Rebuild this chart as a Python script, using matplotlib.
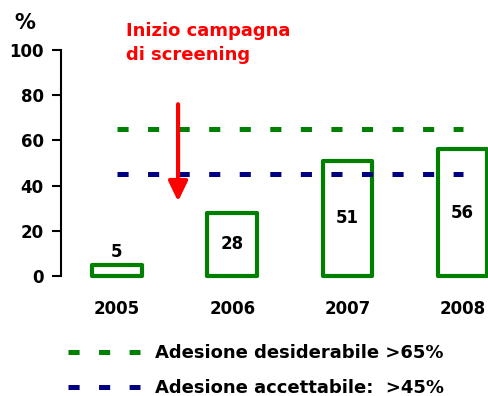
import matplotlib.pyplot as plt
import numpy as np

plt.rcParams['font.family'] = 'DejaVu Sans'
plt.rcParams['font.weight'] = 'bold'
plt.rcParams['lines.scale_dashes'] = False

# adesione allo screening per anno (%)
anni = ['2005', '2006', '2007', '2008']
adesione = [5, 28, 51, 56]
soglia_desiderabile = 65
soglia_accettabile = 45
etichette_legenda = ['Adesione desiderabile >65%', 'Adesione accettabile:  >45%']

verde = '#008000'
blu = '#000080'
x = np.arange(len(anni))

fig = plt.figure(figsize=(4.88, 3.96), dpi=100)
ax = fig.add_axes([61/488, 120/396, 1 - 61/488, 226/396])

# barre vuote con bordo verde
ax.bar(x, adesione, width=0.43, color='white', edgecolor=verde, linewidth=3,
       joinstyle='round', clip_on=False, zorder=2)

# valori: sopra la barra se troppo bassa, altrimenti al centro
for xi, v in zip(x, adesione):
    if v < 10:
        ax.text(xi, v + 5.5, str(v), ha='center', va='center', fontsize=12, fontweight='bold')
    else:
        ax.text(xi, v / 2, str(v), ha='center', va='center', fontsize=12, fontweight='bold')

# soglie tratteggiate
dash = (0, (8, 14))
l1, = ax.plot([x[0], x[-1]], [soglia_desiderabile] * 2, color=verde, lw=3.6,
              linestyle=dash, dash_capstyle='butt', zorder=3)
l2, = ax.plot([x[0], x[-1]], [soglia_accettabile] * 2, color=blu, lw=3.6,
              linestyle=dash, dash_capstyle='butt', zorder=3)

# freccia inizio campagna
ax.annotate('', xy=(0.53, 33), xytext=(0.53, 76),
            arrowprops=dict(arrowstyle='-|>,head_length=1.2,head_width=0.58',
                            mutation_scale=10, color='red', lw=3,
                            shrinkA=0, shrinkB=0), annotation_clip=False)
ax.text(0.08, 112.5, 'Inizio campagna\ndi screening', color='red', fontsize=13,
        fontweight='bold', ha='left', va='top', linespacing=1.45)

ax.set_xlim(-0.486, 3.22)
ax.set_ylim(0, 100)
ax.set_yticks([0, 20, 40, 60, 80, 100])
ax.set_xticks(x)
ax.set_xticklabels(anni)
ax.tick_params(axis='y', labelsize=12, length=6.5, width=1.5, pad=6)
ax.tick_params(axis='x', labelsize=12, length=0, pad=17)
for s in ['top', 'right', 'bottom']:
    ax.spines[s].set_visible(False)
ax.spines['left'].set_linewidth(1.5)

fig.text(25/488, 1 - 23/396, '%', fontsize=15, fontweight='bold', ha='center', va='center')

ax.legend([l1, l2], etichette_legenda, loc='upper left',
          bbox_to_anchor=(68/488, 1 - 344/396), bbox_transform=fig.transFigure,
          frameon=False, fontsize=13, handlelength=4.0, handletextpad=0.8,
          labelspacing=0.95, borderpad=0, borderaxespad=0)

fig.savefig('out.png', dpi=100)
